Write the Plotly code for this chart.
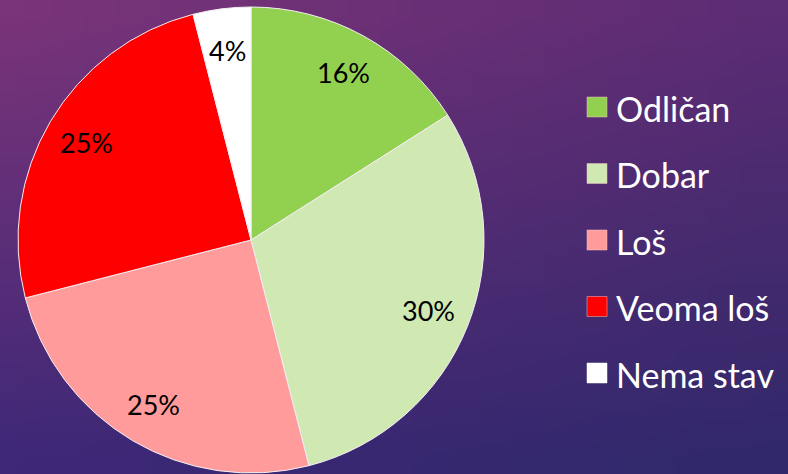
import base64, struct, zlib, math
import plotly.graph_objects as go

# ---- data ----
categories = ["Odličan", "Dobar", "Loš", "Veoma loš", "Nema stav"]
values = [16, 30, 25, 25, 4]
colors = ["#92d050", "#d0e9b2", "#ff9b9b", "#ff0000", "#ffffff"]
labels_text = [f"{v}%" for v in values]

W, H = 788, 474
CX, CY, R = 251, 240, 233  # pie centre / radius in pixels


# ---- gradient background as a tiny PNG ----
def make_png(w, h, fn):
    rows = []
    for j in range(h):
        row = bytearray([0])
        for i in range(w):
            row.extend(fn(i / (w - 1), j / (h - 1)))
        rows.append(bytes(row))
    raw = b"".join(rows)

    def chunk(t, d):
        c = struct.pack(">I", len(d)) + t + d
        return c + struct.pack(">I", zlib.crc32(t + d) & 0xffffffff)

    png = b"\x89PNG\r\n\x1a\n"
    png += chunk(b"IHDR", struct.pack(">IIBBBBB", w, h, 8, 2, 0, 0, 0))
    png += chunk(b"IDAT", zlib.compress(raw))
    png += chunk(b"IEND", b"")
    return "data:image/png;base64," + base64.b64encode(png).decode()


TL, TR, BL, BR = (122, 52, 120), (92, 44, 116), (62, 40, 120), (48, 40, 106)


def grad(u, v):
    return bytes(
        int(round((1 - u) * (1 - v) * a + u * (1 - v) * b + (1 - u) * v * c + u * v * d))
        for a, b, c, d in zip(TL, TR, BL, BR)
    )


bg = make_png(24, 16, grad)

fig = go.Figure()
fig.add_trace(go.Pie(
    labels=categories,
    values=values,
    marker=dict(colors=colors, line=dict(color="#f4eef4", width=1)),
    sort=False,
    direction="clockwise",
    rotation=0,
    textinfo="none",
    hoverinfo="label+percent",
    showlegend=False,
    domain=dict(x=[(CX - R) / W, (CX + R) / W], y=[1 - (CY + R) / H, 1 - (CY - R) / H]),
))

# percentage labels placed along each slice's mid-angle
annotations = []
total = sum(values)
cum = 0
for v, t in zip(values, labels_text):
    mid = (cum + v / 2) / total * 2 * math.pi
    cum += v
    px = CX + 0.82 * R * math.sin(mid)
    py = CY - 0.82 * R * math.cos(mid)
    annotations.append(dict(
        x=px / W, y=1 - py / H, xref="paper", yref="paper", text=t, showarrow=False,
        font=dict(family="Lato", size=27, color="#000000"), xanchor="center", yanchor="middle",
    ))

# custom legend
shapes = []
for i, (name, col) in enumerate(zip(categories, colors)):
    yc = 107 + i * 66.5
    shapes.append(dict(
        type="rect", xref="paper", yref="paper",
        x0=587 / W, x1=607 / W, y0=1 - (yc + 10) / H, y1=1 - (yc - 10) / H,
        fillcolor=col, line=dict(color="#f4c0c0" if col != "#ffffff" else "#ffffff", width=0.5),
    ))
    annotations.append(dict(
        x=614 / W, y=1 - (yc + 1) / H, xref="paper", yref="paper", text=name, showarrow=False,
        font=dict(family="Lato", size=34, color="#ffffff"), xanchor="left", yanchor="middle",
    ))

fig.update_layout(
    width=W, height=H,
    margin=dict(l=0, r=0, t=0, b=0),
    paper_bgcolor="#4a2c78",
    plot_bgcolor="rgba(0,0,0,0)",
    images=[dict(source=bg, xref="paper", yref="paper", x=0, y=1, sizex=1, sizey=1,
                 xanchor="left", yanchor="top", sizing="stretch", layer="below")],
    shapes=shapes,
    annotations=annotations,
)

fig.write_html(
    "out.html",
    config={"displayModeBar": False},
    post_script="document.body.style.margin='0';document.body.style.padding='0';document.body.style.overflow='hidden';",
)
